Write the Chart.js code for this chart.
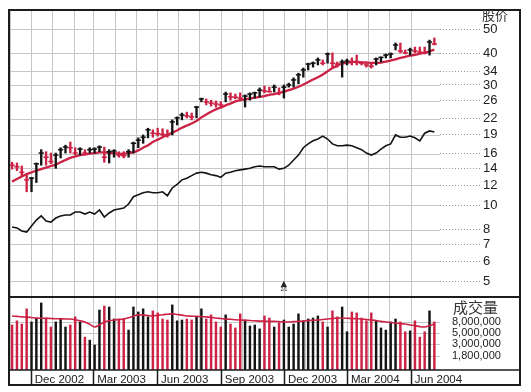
<!DOCTYPE html>
<html>
<head>
<meta charset="utf-8">
<script src="https://cdn.jsdelivr.net/npm/chart.js@4.4.1/dist/chart.umd.min.js"></script>
<style>
html,body{margin:0;padding:0;background:#fff;}
canvas{display:block;}
</style>
</head>
<body>
<canvas id="myChart" width="531" height="392"></canvas>
<script>
// weekly bars, first bar = week of 4 Nov 2002
const startDate = '2002-11-04';
const highs = [14.8,14.7,14.3,13.2,12.9,14.7,16.6,16.3,16.1,16.1,
  16.9,17.3,17.8,16.9,16.9,16.6,16.9,16.9,17.2,17.0,
  16.6,16.6,16.3,16.3,16.6,17.8,18.5,19.0,20.2,19.9,
  20.2,20.1,19.9,21.8,22.4,23.2,23.4,23.2,24.7,26.6,
  26.4,26.1,25.9,25.7,28.1,27.9,27.6,27.9,27.4,27.9,
  28.1,29.2,29.7,29.4,30.0,29.2,30.0,30.5,32.0,33.4,
  35.0,36.6,37.0,38.4,37.7,40.2,40.2,37.0,37.7,38.0,
  38.4,39.4,37.0,37.0,36.6,38.4,38.7,39.8,40.2,44.0,
  44.0,41.3,42.0,42.4,42.4,42.4,45.2,46.1];
const lows = [13.9,13.7,13.0,11.3,11.3,12.3,14.4,14.4,14.6,14.0,
  15.4,16.1,16.1,15.8,15.8,15.8,16.1,16.1,16.3,14.8,
  14.7,15.5,15.5,15.4,15.5,16.1,16.9,17.6,18.5,18.6,
  18.8,18.8,18.6,19.0,20.8,21.8,22.2,21.8,22.2,25.7,
  25.0,24.7,24.5,24.3,25.7,26.1,26.4,26.1,24.5,26.1,
  26.6,26.9,27.9,28.1,28.1,27.4,26.6,29.4,29.4,30.3,
  32.2,34.4,35.3,36.0,36.0,36.6,35.3,35.3,32.2,36.0,
  36.0,36.0,36.0,35.3,35.0,36.0,37.0,38.4,38.4,41.3,
  40.2,39.8,39.4,40.2,40.2,39.8,39.4,43.2];
const closes = [14.4,14.2,13.5,12.6,12.8,14.6,16.1,15.5,14.9,15.8,
  16.6,17.0,16.9,16.1,16.7,16.1,16.6,16.7,17.0,15.5,
  16.3,16.4,15.8,15.7,16.3,17.6,18.1,18.6,19.9,19.3,
  19.2,19.1,19.0,21.4,22.2,22.8,22.6,22.4,24.5,26.4,
  25.7,25.4,25.2,25.0,27.6,26.9,26.8,26.6,27.1,27.6,
  27.9,28.6,28.4,28.2,29.4,27.9,29.4,30.0,31.4,32.9,
  34.4,36.3,36.6,37.7,36.6,39.8,36.6,36.3,37.0,37.3,
  37.0,36.9,36.6,36.0,35.6,38.0,38.6,39.4,39.8,43.2,
  40.9,40.2,41.3,40.9,40.5,40.2,44.4,43.6];
// 10 week average line
const avg10 = [12.4,12.7,13.0,13.3,13.5,13.7,13.9,14.1,14.3,14.5,
  14.8,15.1,15.4,15.6,15.8,15.9,16.0,16.1,16.2,16.2,
  16.1,16.1,16.0,16.0,16.1,16.2,16.5,16.9,17.3,17.8,
  18.2,18.6,19.0,19.4,19.8,20.3,20.7,21.1,21.6,22.3,
  22.9,23.5,24.0,24.4,24.9,25.3,25.8,26.1,26.3,26.5,
  26.7,26.9,27.1,27.4,27.6,27.9,28.2,28.6,29.0,29.5,
  30.1,30.8,31.5,32.2,33.0,34.0,35.0,35.8,36.4,36.8,
  37.0,37.0,36.9,36.8,36.7,36.7,36.8,37.1,37.5,37.9,
  38.4,38.8,39.2,39.5,39.9,40.3,40.8,41.4];
// relative strength line (same price axis)
const relStrength = [8.19,8.12,7.90,7.82,8.26,8.73,9.06,8.65,8.57,8.89,
  9.06,9.14,9.14,9.39,9.39,9.22,9.39,9.22,9.57,8.97,
  9.31,9.57,9.66,9.74,10.1,10.8,11.0,11.2,11.3,11.2,
  11.2,11.3,10.9,11.7,12.1,12.6,12.8,13.1,13.4,13.5,
  13.4,13.2,13.1,12.9,13.4,13.5,13.7,13.8,13.9,14.0,
  14.2,14.3,14.2,14.2,14.2,13.9,14.0,14.4,15.1,15.8,
  16.9,17.5,18.0,18.3,18.8,18.3,17.5,17.2,17.2,17.3,
  17.2,16.9,16.6,16.1,15.8,16.1,16.7,17.2,17.5,19.0,
  18.6,18.6,18.8,18.5,18.0,19.3,19.7,19.5];
// volume, millions of shares
const volume = [7.0,8.4,7.3,14.2,8.0,9.5,18.4,9.5,6.4,8.0,
  9.1,6.4,7.0,10.0,8.0,4.1,3.6,2.9,13.5,16.1,
  15.4,9.1,9.1,9.1,5.6,15.4,12.4,14.2,10.0,13.0,
  11.9,9.1,8.7,16.9,8.4,8.7,9.1,8.7,10.0,14.2,
  9.1,10.9,8.0,6.4,10.9,7.3,6.15,11.4,8.7,6.7,
  7.0,5.9,10.4,9.5,6.4,7.7,8.7,6.4,7.3,11.4,
  8.4,9.1,9.5,10.4,8.0,6.4,13.0,10.0,15.4,5.2,
  12.4,11.9,9.5,8.4,11.9,8.4,6.15,5.6,8.0,9.1,
  8.0,5.2,5.4,8.4,4.1,5.2,13.0,8.0];
const volAvg = [10.4,10.2,10.0,9.9,9.7,9.5,9.4,9.4,9.3,9.2,
  9.2,9.1,9.1,8.8,8.4,8.0,7.2,6.4,7.0,8.0,
  8.4,8.7,8.9,9.1,9.6,10.3,10.9,10.8,10.6,10.4,
  10.7,11.0,11.2,11.4,11.1,10.8,10.4,10.3,10.2,10.1,
  10.0,9.8,9.5,9.3,9.1,9.0,8.8,8.7,8.6,8.5,
  8.4,8.3,8.3,8.2,8.2,8.1,8.0,8.0,8.1,8.2,
  8.3,8.5,8.6,8.7,8.9,9.1,9.3,9.5,9.5,9.4,
  9.3,9.2,9.1,8.9,8.7,8.5,8.2,8.0,7.8,7.6,
  7.4,7.3,7.0,6.8,6.5,6.4,6.8,7.3];
const priceTicks = [5,6,7,8,10,12,14,16,19,22,26,30,34,40,50];
const volTicks = [1.8,3,5,8];
const dateLabels = ['Dec 2002','Mar 2003','Jun 2003','Sep 2003','Dec 2003','Mar 2004','Jun 2004'];
const monthNames = ['Jan','Feb','Mar','Apr','May','Jun','Jul','Aug','Sep','Oct','Nov','Dec'];
const splitMark = {year: 2003, month: 11, text: '2/1'};

const RED = '#cc2245';
const BLACK = '#141414';
const GRID = '#c6c6c6';
const weekMs = 7 * 24 * 3600 * 1000;
function weekOf(y, m) {
  return (Date.UTC(y, m, 1) - Date.parse(startDate)) / weekMs;
}

// month gridlines Nov 2002 .. Jun 2004, labels every quarter
const monthTicks = [];
for (let k = 0; k < 20; k++) {
  const y = 2002 + Math.floor((10 + k) / 12), m = (10 + k) % 12;
  const name = monthNames[m] + ' ' + y;
  monthTicks.push({value: weekOf(y, m), label: dateLabels.includes(name) ? name : ''});
}

const barColors = closes.map((c, i) => (i > 0 && c >= closes[i - 1]) ? BLACK : RED);
const idx = closes.map((c, i) => i);

// light grid under the data
const gridPlugin = {
  id: 'panelGrid',
  beforeDatasetsDraw(chart) {
    const ctx = chart.ctx, a = chart.chartArea;
    const xs = chart.scales.x, ys = chart.scales.y, vs = chart.scales.v;
    ctx.save();
    ctx.strokeStyle = GRID;
    ctx.lineWidth = 1;
    ctx.beginPath();
    monthTicks.forEach(t => {
      const px = Math.round(xs.getPixelForValue(t.value)) + 0.5;
      ctx.moveTo(px, a.top); ctx.lineTo(px, a.bottom);
    });
    priceTicks.forEach(v => {
      const py = Math.round(ys.getPixelForValue(v)) + 0.5;
      ctx.moveTo(a.left, py); ctx.lineTo(a.right, py);
    });
    volTicks.forEach(v => {
      const py = Math.round(vs.getPixelForValue(v)) + 0.5;
      ctx.moveTo(a.left, py); ctx.lineTo(a.right, py);
    });
    ctx.stroke();
    ctx.restore();
  }
};

const framePlugin = {
  id: 'frame',
  afterDraw(chart) {
    const ctx = chart.ctx;
    const xs = chart.scales.x, ys = chart.scales.y, vs = chart.scales.v;
    const L = 9, R = 520, T = 10, B = 385;
    ctx.save();
    ctx.strokeStyle = '#1c1c1c';
    ctx.lineWidth = 2;
    ctx.strokeRect(L, T, R - L, B - T);
    ctx.beginPath();
    ctx.moveTo(L, ys.bottom); ctx.lineTo(R, ys.bottom);
    ctx.stroke();
    ctx.lineWidth = 1.5;
    ctx.beginPath();
    ctx.moveTo(L, vs.bottom); ctx.lineTo(R, vs.bottom);
    monthTicks.forEach(t => {
      if (!t.label) return;
      const px = Math.round(xs.getPixelForValue(t.value)) + 0.5;
      ctx.moveTo(px, vs.bottom); ctx.lineTo(px, B);
    });
    ctx.stroke();
    // panel titles
    ctx.fillStyle = '#333';
    ctx.textBaseline = 'middle';
    ctx.textAlign = 'left';
    ctx.font = '13px "Noto Sans CJK SC"';
    ctx.fillText('股价', 482, 15);
    ctx.font = '15px "Noto Sans CJK SC"';
    ctx.fillText('成交量', 453, 307);
    // split marker
    const sx = xs.getPixelForValue(weekOf(splitMark.year, splitMark.month));
    ctx.fillStyle = '#222';
    ctx.textAlign = 'center';
    ctx.font = '8px "DejaVu Sans"';
    ctx.fillText('▲', sx, ys.bottom - 13);
    ctx.font = '5px "Liberation Sans"';
    ctx.fillText(splitMark.text, sx, ys.bottom - 7);
    ctx.restore();
  }
};

Chart.defaults.font.family = '"Liberation Sans", Arial, sans-serif';
Chart.defaults.color = '#222';

const noPad = s => { s.paddingTop = 0; s.paddingBottom = 0; };

const ctx = document.getElementById('myChart').getContext('2d');
const myChart = new Chart(ctx, {
  type: 'bar',
  data: {
    datasets: [
      {
        type: 'line', label: 'ticks', yAxisID: 'y', order: 0,
        data: idx.map(i => ({x: i, y: closes[i]})),
        showLine: false, pointStyle: 'line', pointRadius: 2.6,
        pointBorderWidth: 1.5, pointBorderColor: barColors, pointBackgroundColor: barColors
      },
      {
        type: 'bar', label: 'range', yAxisID: 'y', order: 1,
        data: idx.map(i => ({x: i, y: [lows[i], highs[i]]})),
        backgroundColor: barColors, barThickness: 1.7, grouped: false
      },
      {
        type: 'line', label: 'avg', yAxisID: 'y', order: 2,
        data: idx.map(i => ({x: i, y: avg10[i]})),
        borderColor: RED, borderWidth: 2.3, pointRadius: 0, tension: 0.3
      },
      {
        type: 'line', label: 'rs', yAxisID: 'y', order: 3,
        data: idx.map(i => ({x: i, y: relStrength[i]})),
        borderColor: BLACK, borderWidth: 1.6, pointRadius: 0, tension: 0
      },
      {
        type: 'line', label: 'volavg', yAxisID: 'v', order: 0,
        data: idx.map(i => ({x: i, y: volAvg[i]})),
        borderColor: RED, borderWidth: 1.6, pointRadius: 0, tension: 0.3
      },
      {
        type: 'bar', label: 'vol', yAxisID: 'v', order: 1,
        data: idx.map(i => ({x: i, y: volume[i]})),
        backgroundColor: barColors, barThickness: 1.8, grouped: false
      }
    ]
  },
  options: {
    responsive: false,
    animation: false,
    events: [],
    layout: {padding: {left: 10, top: 10, right: 0, bottom: 0}},
    plugins: {legend: {display: false}, tooltip: {enabled: false}},
    scales: {
      x: {
        type: 'linear', min: -0.43, max: 88.16, offset: false,
        grid: {display: false, drawTicks: false, offset: false},
        border: {display: false},
        afterBuildTicks: s => { s.ticks = monthTicks.map(t => ({value: t.value})); },
        afterFit: s => { s.height = 22; s.paddingLeft = 0; s.paddingRight = 0; },
        ticks: {
          autoSkip: false, maxRotation: 0, align: 'start', labelOffset: 4, padding: 3,
          font: {size: 11.5}, color: '#222',
          callback: v => { const t = monthTicks.find(m => Math.abs(m.value - v) < 1e-6); return t ? t.label : ''; }
        }
      },
      y: {
        type: 'logarithmic', position: 'right', stack: 'panels', stackWeight: 287,
        min: 4.32, max: 59.5,
        grid: {display: true, drawOnChartArea: false, drawTicks: true,
          tickLength: 40, tickColor: '#999', tickWidth: 1, tickBorderDash: [1, 2]},
        border: {display: false},
        afterBuildTicks: s => { s.ticks = priceTicks.map(v => ({value: v})); },
        afterFit: s => { s.width = 91; noPad(s); },
        ticks: {autoSkip: false, padding: 3, font: {size: 13}, color: '#222', callback: v => String(v)}
      },
      v: {
        type: 'logarithmic', position: 'right', stack: 'panels', stackWeight: 73,
        min: 0.97, max: 23.9,
        grid: {display: false, drawTicks: false},
        border: {display: false},
        afterBuildTicks: s => { s.ticks = volTicks.map(v => ({value: v})); },
        afterFit: s => { s.width = 91; noPad(s); },
        ticks: {autoSkip: false, padding: 12, font: {size: 11}, color: '#222',
          callback: v => Math.round(v * 1e6).toLocaleString('en-US')}
      }
    }
  },
  plugins: [gridPlugin, framePlugin]
});
</script>
</body>
</html>
